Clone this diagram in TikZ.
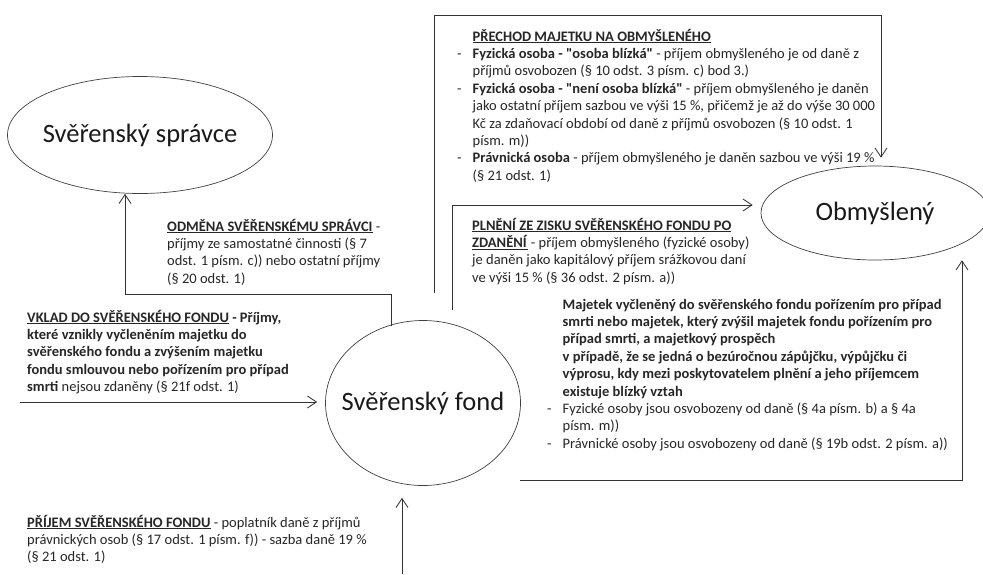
\documentclass[tikz,border=0pt]{standalone}
\usepackage{fontspec}
\setmainfont{Carlito}[Ligatures=TeXOff]
\usetikzlibrary{shapes.geometric,arrows.meta}
\tikzstyle{entity}=[ellipse,draw=black!75,line width=0.7pt,inner xsep=-25pt,inner ysep=0pt,font=\fontsize{26.5}{32}\selectfont,text=black!90]
\tikzstyle{note}=[anchor=north west,align=left,inner sep=0pt,font=\fontsize{14.5}{17.4}\selectfont,text=black!85]
\tikzstyle{flow}=[draw=black!80,line width=0.8pt,-{Straight Barb[length=9pt,width=12pt]}]
\newcommand{\dashitem}{\strut\makebox[15.5pt][l]{-}}
\newcommand{\hangline}{\strut\hspace*{15.5pt}}

\begin{document}
\begin{tikzpicture}[x=1pt,y=-1pt]
\useasboundingbox (0,0) rectangle (983,574);
% ellipses
    \node[entity,minimum width=265pt,minimum height=117pt] (spr)  at (140,135) {Svěřenský správce};
    \node[entity,minimum width=228pt,minimum height=94pt]  (obm)  at (875,213) {Obmyšlený};
    \node[entity,minimum width=195pt,minimum height=165pt] (fond) at (423,403) {Svěřenský fond};
% connector ends
    \coordinate (odmFoot) at (391,326);
    \coordinate (odmBend) at (125,294);
    \coordinate (prFoot)  at (434,293);
    \coordinate (prBend)  at (881,15);
    \coordinate (plFoot)  at (452,310);
    \coordinate (plBend)  at (452,205);
    \coordinate (vkStart) at (20,402);
    \coordinate (pjStart) at (402,574);
    \coordinate (mjFoot)  at (520,480);
    \coordinate (mjBend)  at (962,480);
% connectors
	 \draw[flow] (odmFoot) |- (odmBend) -- (odmBend |- spr.south);
	 \draw[flow,shorten >=8pt] (prFoot) |- (prBend) -- (prBend |- obm.north);
	 \draw[flow,shorten >=8pt] (plFoot) -- (plBend) -- (plBend -| obm.west);
	 \draw[flow,shorten >=8pt] (vkStart) -- (vkStart -| fond.west);
	 \draw[flow,shorten >=12pt] (pjStart) -- (pjStart |- fond.south);
	 \draw[flow] (mjFoot) -- (mjBend) -- (mjBend |- obm.south);
% texts
    \node[note] (prechod) at (457,28.8) {%
      \hangline\underline{\textbf{PŘECHOD MAJETKU NA OBMYŠLENÉHO}}\\
      \dashitem\textbf{Fyzická osoba - "osoba blízká"} - příjem obmyšleného je od daně z\\
      \hangline příjmů osvobozen (§ 10 odst. 3 písm. c) bod 3.)\\
      \dashitem\textbf{Fyzická osoba - "není osoba blízká"} - příjem obmyšleného je daněn\\
      \hangline jako ostatní příjem sazbou ve výši 15 \%, přičemž je až do výše 30 000\\
      \hangline Kč za zdaňovací období od daně z příjmů osvobozen (§ 10 odst. 1\\
      \hangline písm. m))\\
      \dashitem\textbf{Právnická osoba} - příjem obmyšleného je daněn sazbou ve výši 19 \%\\
      \hangline (§ 21 odst. 1)};
    \node[note] (odmena) at (167,218.8) {%
      \strut\underline{\textbf{ODMĚNA SVĚŘENSKÉMU SPRÁVCI}} -\\
      příjmy ze samostatné činnosti (§ 7\\
      odst. 1 písm. c)) nebo ostatní příjmy\\
      (§ 20 odst. 1)};
    \node[note] (plneni) at (472,217.8) {%
      \strut\underline{\textbf{PLNĚNÍ ZE ZISKU SVĚŘENSKÉHO FONDU PO}}\\
      \underline{\textbf{ZDANĚNÍ}} - příjem obmyšleného (fyzické osoby)\\
      je daněn jako kapitálový příjem srážkovou daní\\
      ve výši 15 \% (§ 36 odst. 2 písm. a))};
    \node[note] (vklad) at (27,309.8) {%
      \strut\underline{\textbf{VKLAD DO SVĚŘENSKÉHO FONDU}} \textbf{- Příjmy,}\\
      \textbf{které vznikly vyčleněním majetku do}\\
      \textbf{svěřenského fondu a zvýšením majetku}\\
      \textbf{fondu smlouvou nebo pořízením pro případ}\\
      \textbf{smrti} nejsou zdaněny (§ 21f odst. 1)};
    \node[note] (majetek) at (547,296.8) {%
      \hangline\textbf{Majetek vyčleněný do svěřenského fondu pořízením pro případ}\\
      \hangline\textbf{smrti nebo majetek, který zvýšil majetek fondu pořízením pro}\\
      \hangline\textbf{případ smrti, a majetkový prospěch}\\
      \hangline\textbf{v případě, že se jedná o bezúročnou zápůjčku, výpůjčku či}\\
      \hangline\textbf{výprosu, kdy mezi poskytovatelem plnění a jeho příjemcem}\\
      \hangline\textbf{existuje blízký vztah}\\
      \dashitem Fyzické osoby jsou osvobozeny od daně (§ 4a písm. b) a § 4a\\
      \hangline písm. m))\\
      \dashitem Právnické osoby jsou osvobozeny od daně (§ 19b odst. 2 písm. a))};
    \node[note] (prijem) at (27,514.8) {%
      \strut\underline{\textbf{PŘÍJEM SVĚŘENSKÉHO FONDU}} - poplatník daně z příjmů\\
      právnických osob (§ 17 odst. 1 písm. f)) - sazba daně 19 \%\\
      (§ 21 odst. 1)};
\end{tikzpicture}
\end{document}
